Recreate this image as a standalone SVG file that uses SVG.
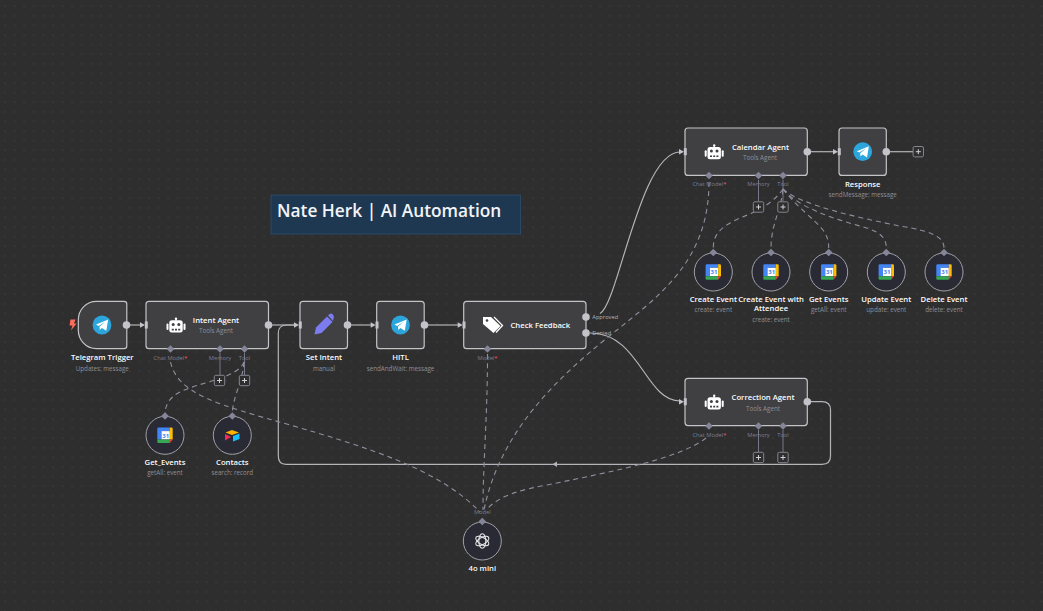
<svg xmlns="http://www.w3.org/2000/svg" width="1043" height="611" viewBox="0 0 1043 611">
<style>
text{font-family:"Open Sans","Noto Sans","Liberation Sans",sans-serif}
.box{fill:#404043;stroke:#c4c4c8;stroke-width:1.2}
.circ{fill:#2a2a35;stroke:#a0a0a8;stroke-width:1}
.t{fill:#fbfbfb;font-size:7.7px;font-weight:600;text-anchor:middle}
.s{fill:#8f8f96;font-size:6.24px;text-anchor:middle}
.p{fill:#7d7d94;font-size:5.76px;text-anchor:middle}
.r{fill:#ff5a6e}
.w{fill:none;stroke:#b4b4b9;stroke-width:1.2}
.d{fill:none;stroke:#8f8f9e;stroke-width:1.1;stroke-dasharray:5 4}
.g{fill:none;stroke:#77778c;stroke-width:1}
.dot{fill:#c3c3ca}
.dia{fill:#85859a}
</style>
<defs>
<pattern id="grid" width="9.6" height="9.6" patternUnits="userSpaceOnUse" x="0.2" y="1.4">
<circle cx="4.8" cy="4.8" r="0.5" fill="#555"/>
</pattern>
<g id="tg">
<circle r="9.4" fill="#2ba5dc"/>
<path d="M-6-.5 6.200-5.500 4.300 5.800-.1 2.900-2.200 4.900-2.500 1.600 3.500-3.500-3.400.9Z" fill="#fff"/>
</g>
<g id="bot" fill="#fff">
<circle cx="0" cy="-6.300" r="1.200"/>
<rect x="-.6" y="-6.300" width="1.200" height="2"/>
<rect x="-6.700" y="-4.700" width="13.400" height="12.300" rx="2.500"/>
<rect x="-9.500" y="-1.500" width="2" height="6.500" rx="1"/>
<rect x="7.500" y="-1.500" width="2" height="6.500" rx="1"/>
<circle cx="-2.800" cy="-.6" r="1.500" fill="#404043"/>
<circle cx="2.800" cy="-.6" r="1.500" fill="#404043"/>
<path d="M-4.200 3.800h2v1.600h-2zM-1 3.800h2v1.600h-2zM2.200 3.800h2v1.600h-2z" fill="#404043"/>
</g>
<g id="gcal" transform="scale(1.1)">
<path d="M-5.800-7H4.400V-3.800H-2.600V3.800H-7V-5.800Q-7-7-5.800-7Z" fill="#4285f4"/>
<rect x="-3" y="-3.800" width="7.400" height="7.600" fill="#fff"/>
<text x=".6" y="2.200" font-size="5.500" font-weight="700" fill="#4285f4" text-anchor="middle">31</text>
<path d="M4.400-7H5.800Q7-7 7-5.800V3.800H4.400Z" fill="#fbbc04"/>
<path d="M-7 3.800H4.400V7H-5.800Q-7 7-7 5.800Z" fill="#34a853"/>
<path d="M4.400 3.800H7L4.400 7Z" fill="#ea4335"/>
</g>
<g id="in">
<path d="M-6-2.800-1 0-6 2.800Z" fill="#c3c3ca"/>
<rect x="-1.200" y="-3.500" width="3" height="7" fill="#c3c3ca"/>
</g>
<g id="plus">
<rect x="-5.200" y="-5.200" width="10.400" height="10.400" rx="1.500" fill="#2e2e2e" stroke="#85858f" stroke-width="1"/>
<path d="M-2.500 0H2.500M0-2.500V2.500" stroke="#d0d0d6" stroke-width="1"/>
</g>
<path id="di" d="M0-3.800 3.800 0 0 3.800-3.800 0Z" class="dia"/>
</defs>
<rect width="1043" height="611" fill="#2e2e2e"/>
<rect width="1043" height="611" fill="url(#grid)"/>

<g id="title-note">
<rect x="271" y="195" width="249.500" height="39" fill="#1f3852" stroke="#2b4866" stroke-width="1"/>
<text x="277" y="216.800" font-size="17.300" font-weight="600" fill="#f2f4f8">Nate Herk | AI Automation</text>
</g>

<g id="connectors">
<path class="w" d="M130 325H141"/>
<path class="w" d="M272 325H295"/>
<path class="w" d="M351 325H372"/>
<path class="w" d="M428 325H459"/>
<path class="w" d="M600 313.500C618 305 640 152 680 152"/>
<path class="w" d="M590 333C640 333 645 401 680 401"/>
<path class="w" d="M811 151.700H834"/>
<path class="w" d="M890 151.700H913"/>
<path class="w" d="M811 401.700H822Q830.500 401.700 830.500 410V456Q830.500 464.300 822 464.300H286Q278.300 464.300 278.300 456V333Q278.300 325 287 325H295"/>
<path d="M557 461.500 552.500 464.300 557 467.100Z" fill="#b4b4b9"/>
<path class="g" d="M220 353V375M244.500 353V375"/>
<path class="g" d="M758.500 180V201M783 180V201"/>
<path class="g" d="M758.500 430V452M783 430V452"/>
<path class="d" d="M170.500 362C178 395 220 405 290 425C370 448 440 470 480 512"/>
<path class="d" d="M244 362C238 378 200 382 180 392C170 397 165 405 165 414"/>
<path class="d" d="M244 362C242 385 233 395 232.300 414"/>
<path class="d" d="M487.500 354C487.500 420 483 460 483 510"/>
<path class="d" d="M709 182C709 260 660 295 617 330C560 375 500 430 484 510"/>
<path class="d" d="M706 438C680 458 620 470 547 485C520 490 500 495 486 510"/>
<path class="d" d="M783 189C772 205 755 212 740 218C725 225 713 232 713.300 248"/>
<path class="d" d="M783 189C781 210 771 225 771 248"/>
<path class="d" d="M783 189C795 205 815 220 823 230C827 236 828.700 240 828.700 248"/>
<path class="d" d="M783 189C795 205 830 218 860 226C878 231 886.300 236 886.300 248"/>
<path class="d" d="M783 189C800 205 860 218 900 226C930 231 944 236 944 248"/>
</g>

<g id="telegram-trigger">
<path class="box" d="M96.500 301.300H124Q126.800 301.300 126.800 304V346Q126.800 348.700 124 348.700H96.500C85 348.700 78.300 339 78.300 330V320C78.300 310 86 301.300 96.500 301.300Z"/>
<path d="M70.500 319.500H75.500L74 323.500H76.500L71 330.500 72.500 325.500H69.500Z" fill="#ff6d5a"/>
<use href="#tg" x="102" y="325"/>
<circle class="dot" cx="126.500" cy="325" r="3.800"/>
<text class="t" x="102.300" y="360">Telegram Trigger</text>
<text class="s" x="102.300" y="370.500">Updates: message</text>
</g>

<g id="intent-agent">
<rect class="box" x="146" y="301.300" width="122.500" height="47.400" rx="3"/>
<use href="#in" x="146" y="325"/>
<use href="#bot" x="176" y="325"/>
<text class="t" x="216" y="323">Intent Agent</text>
<text class="s" x="216" y="333">Tools Agent</text>
<circle class="dot" cx="268.500" cy="325" r="3.800"/>
<use href="#di" x="170.500" y="349"/>
<use href="#di" x="220" y="349"/>
<use href="#di" x="244.500" y="349"/>
<text class="p" x="170.500" y="360">Chat Model<tspan class="r">*</tspan></text>
<text class="p" x="220" y="360">Memory</text>
<text class="p" x="244.500" y="360">Tool</text>
<use href="#plus" x="219.500" y="380.500"/>
<use href="#plus" x="244.500" y="380.500"/>
</g>

<g id="set-intent">
<rect class="box" x="300" y="301.300" width="47.500" height="47.400" rx="3"/>
<use href="#in" x="300" y="325"/>
<path d="M314.500 334.500 316 327.500 327 316.500 332.500 322 321.500 333Z" fill="#7c7cf0"/>
<path d="M328 315.500 329.500 314Q331 313 332.500 314L333.500 315.500Q334.500 317 333.500 318.500L333 321Z" fill="#7c7cf0"/>
<circle class="dot" cx="347.500" cy="325" r="3.800"/>
<text class="t" x="324" y="360">Set Intent</text>
<text class="s" x="324" y="370.500">manual</text>
</g>

<g id="hitl">
<rect class="box" x="376.700" y="301.300" width="47.500" height="47.400" rx="3"/>
<use href="#in" x="376.700" y="325"/>
<use href="#tg" x="400.500" y="325"/>
<circle class="dot" cx="424.500" cy="325" r="3.800"/>
<text class="t" x="400.500" y="360">HITL</text>
<text class="s" x="400.500" y="370.500">sendAndWait: message</text>
</g>

<g id="check-feedback">
<rect class="box" x="463.700" y="301.300" width="122.300" height="47.400" rx="3"/>
<use href="#in" x="463.700" y="325"/>
<path d="M483 317H491L500.500 326 493.500 333 483 324Z" fill="#fff"/>
<path d="M494 317 502.500 325.500 496 332.500" fill="none" stroke="#fff" stroke-width="1.300"/>
<circle cx="487" cy="320.500" r="1.300" fill="#404043"/>
<text class="t" x="540.300" y="328">Check Feedback</text>
<circle class="dot" cx="586" cy="317" r="3.800"/>
<circle class="dot" cx="586" cy="333" r="3.800"/>
<text x="592.300" y="319" font-size="5.700" fill="#b4b4bc">Approved</text>
<text x="592.300" y="335" font-size="5.700" fill="#b4b4bc">Denied</text>
<use href="#di" x="487.500" y="349"/>
<text class="p" x="487.500" y="360">Model<tspan class="r">*</tspan></text>
</g>

<g id="calendar-agent">
<rect class="box" x="685" y="128" width="122.300" height="47.400" rx="3"/>
<use href="#in" x="685" y="151.700"/>
<use href="#bot" x="714.200" y="151.700"/>
<text class="t" x="760.500" y="149.500">Calendar Agent</text>
<text class="s" x="760" y="160">Tools Agent</text>
<circle class="dot" cx="807.300" cy="151.700" r="3.800"/>
<use href="#di" x="709" y="175.500"/>
<use href="#di" x="758.500" y="175.500"/>
<use href="#di" x="783" y="175.500"/>
<text class="p" x="709.400" y="186">Chat Model<tspan class="r">*</tspan></text>
<text class="p" x="758.500" y="186">Memory</text>
<text class="p" x="783" y="186">Tool</text>
<use href="#plus" x="758.500" y="207"/>
<use href="#plus" x="783" y="207"/>
</g>

<g id="response">
<rect class="box" x="839" y="128" width="47.300" height="47.400" rx="3"/>
<use href="#in" x="839" y="151.700"/>
<use href="#tg" x="862.700" y="151.700"/>
<circle class="dot" cx="886.300" cy="151.700" r="3.800"/>
<use href="#plus" x="918.300" y="151.700"/>
<text class="t" x="862.700" y="186.500">Response</text>
<text class="s" x="862.700" y="196.500">sendMessage: message</text>
</g>

<g id="correction-agent">
<rect class="box" x="685" y="378.300" width="122.300" height="47.300" rx="3"/>
<use href="#in" x="685" y="401.700"/>
<use href="#bot" x="714.200" y="402"/>
<text class="t" x="763" y="400">Correction Agent</text>
<text class="s" x="763" y="410.500">Tools Agent</text>
<circle class="dot" cx="807.300" cy="401.700" r="3.800"/>
<use href="#di" x="709" y="426"/>
<use href="#di" x="758.500" y="426"/>
<use href="#di" x="783" y="426"/>
<text class="p" x="709.400" y="437">Chat Model<tspan class="r">*</tspan></text>
<text class="p" x="758.500" y="437">Memory</text>
<text class="p" x="783" y="437">Tool</text>
<use href="#plus" x="758.500" y="457.500"/>
<use href="#plus" x="783" y="457.500"/>
</g>

<g id="get-events">
<circle class="circ" cx="165" cy="435.300" r="19"/>
<use href="#di" x="165" y="416"/>
<use href="#gcal" x="165" y="435.300"/>
<text class="t" x="165" y="465">Get_Events</text>
<text class="s" x="165" y="475">getAll: event</text>
</g>

<g id="contacts">
<circle class="circ" cx="232.300" cy="435.300" r="19"/>
<use href="#di" x="232.300" y="416"/>
<path d="M225.500 432.500 232 430 239 432.500 232 435Z" fill="#fcb400"/>
<path d="M233 436 239.500 433.500V439L233 441.500Z" fill="#18bfff"/>
<path d="M225 434 231 437 225 440.500Z" fill="#f82b60"/>
<text class="t" x="232.300" y="465">Contacts</text>
<text class="s" x="232.300" y="475">search: record</text>
</g>

<g id="create-event">
<circle class="circ" cx="713.300" cy="272" r="19"/>
<use href="#di" x="713.300" y="252.500"/>
<use href="#gcal" x="713.300" y="272"/>
<text class="t" x="713.300" y="301.700">Create Event</text>
<text class="s" x="713.300" y="311.700">create: event</text>
</g>

<g id="create-event-attendee">
<circle class="circ" cx="771" cy="272" r="19"/>
<use href="#di" x="771" y="252.500"/>
<use href="#gcal" x="771" y="272"/>
<text class="t" x="771" y="301.700">Create Event with</text>
<text class="t" x="771" y="311">Attendee</text>
<text class="s" x="771" y="322">create: event</text>
</g>

<g id="get-events-2">
<circle class="circ" cx="828.700" cy="272" r="19"/>
<use href="#di" x="828.700" y="252.500"/>
<use href="#gcal" x="828.700" y="272"/>
<text class="t" x="828.700" y="301.700">Get Events</text>
<text class="s" x="828.700" y="311.700">getAll: event</text>
</g>

<g id="update-event">
<circle class="circ" cx="886.300" cy="272" r="19"/>
<use href="#di" x="886.300" y="252.500"/>
<use href="#gcal" x="886.300" y="272"/>
<text class="t" x="886.300" y="301.700">Update Event</text>
<text class="s" x="886.300" y="311.700">update: event</text>
</g>

<g id="delete-event">
<circle class="circ" cx="944" cy="272" r="19"/>
<use href="#di" x="944" y="252.500"/>
<use href="#gcal" x="944" y="272"/>
<text class="t" x="944" y="301.700">Delete Event</text>
<text class="s" x="944" y="311.700">delete: event</text>
</g>

<g id="model-4o-mini">
<circle class="circ" cx="482.300" cy="541" r="19"/>
<use href="#di" x="482.300" y="521.500"/>
<text class="p" x="482.300" y="514">Model</text>
<g fill="none" stroke="#e4e4e8" stroke-width="1.100">
<ellipse cx="482.300" cy="541" rx="3.500" ry="7.300"/>
<ellipse cx="482.300" cy="541" rx="3.500" ry="7.300" transform="rotate(60 482.300 541)"/>
<ellipse cx="482.300" cy="541" rx="3.500" ry="7.300" transform="rotate(120 482.300 541)"/>
</g>
<text class="t" x="482.300" y="571">4o mini</text>
</g>
</svg>
